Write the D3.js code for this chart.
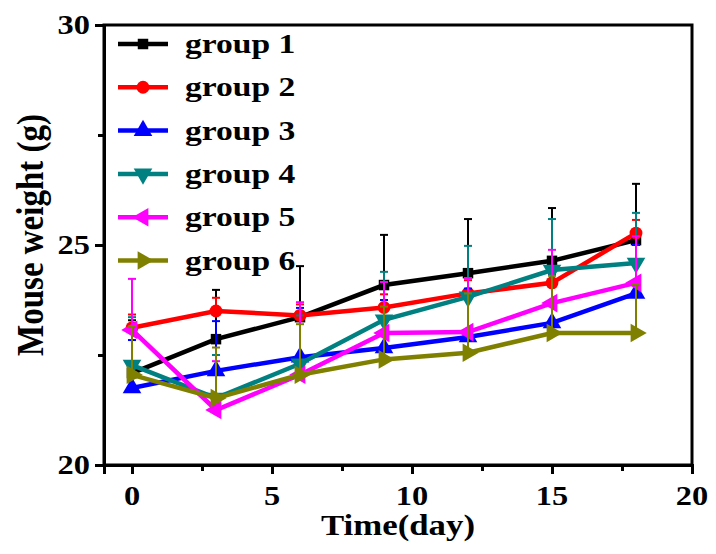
<!DOCTYPE html>
<html>
<head>
<meta charset="utf-8">
<script src="https://cdn.jsdelivr.net/npm/d3@7/dist/d3.min.js"></script>
<style>
  body { margin: 0; background: #fff; }
  text { font-family: "Liberation Serif", "Times New Roman", serif; font-weight: bold; fill: #000; }
</style>
</head>
<body>
<div id="chart"></div>
<script>
// data
const days = [0, 3, 6, 9, 12, 15, 18];
const groupNames = ["group 1", "group 2", "group 3", "group 4", "group 5", "group 6"];
const g1 = [22.09, 22.86, 23.36, 24.09, 24.36, 24.64, 25.11];
const g2 = [23.12, 23.5, 23.4, 23.58, 23.9, 24.14, 25.27];
const g3 = [21.75, 22.14, 22.45, 22.66, 22.91, 23.23, 23.9];
const g4 = [22.27, 21.52, 22.3, 23.3, 23.82, 24.43, 24.59];
const g5 = [23.07, 21.25, 22.05, 23.0, 23.02, 23.68, 24.14];
const g6 = [22.05, 21.52, 22.05, 22.4, 22.55, 23.0, 23.0];
// upper error bars
const e1 = [1.2, 1.12, 1.16, 1.14, 1.23, 1.2, 1.28];
const e2 = [0.3, 0.3, 0.25, 0.3, 0.3, 0.3, 0.3];
const e3 = [1.09, 1.13, 1.12, 1.09, 1.1, 1.1, 1.1];
const e4 = [1.09, 0.98, 1.1, 1.09, 1.16, 1.16, 1.14];
const e5 = [1.16, 1.11, 1.65, 1.16, 1.23, 1.21, 1.06];
const e6 = [1.1, 1.15, 1.15, 1.2, 1.35, 1.3, 1.1];
const xTicks = [0, 5, 10, 15, 20];
const yTicks = [20, 25, 30];

const values = [g1, g2, g3, g4, g5, g6];
const errors = [e1, e2, e3, e4, e5, e6];
const colors = ["#000000", "#ff0000", "#0000ff", "#008080", "#ff00ff", "#808000"];
const symbols = [
    { type: d3.symbolSquare, size: 110, rot: 0 },
    { type: d3.symbolCircle, size: 130, rot: 0 },
    { type: d3.symbolTriangle, size: 150, rot: 0 },
    { type: d3.symbolTriangle, size: 150, rot: 180 },
    { type: d3.symbolTriangle, size: 150, rot: -90 },
    { type: d3.symbolTriangle, size: 150, rot: 90 },
];

const width = 716, height = 554;
const plotL = 104, plotR = 692, plotT = 25, plotB = 465;
const SX = 1.2; // glyphs in the picture are a bit wide

const svg = d3.select("#chart").append("svg")
    .attr("width", width)
    .attr("height", height);

const x = d3.scaleLinear().domain([-1, 20]).range([plotL, plotR]);
const y = d3.scaleLinear().domain([20, 30]).range([plotB, plotT]);

// frame
svg.append("rect")
    .attr("x", plotL).attr("y", plotT)
    .attr("width", plotR - plotL).attr("height", plotB - plotT)
    .attr("fill", "none").attr("stroke", "#000").attr("stroke-width", 3);

// axes (ticks only, labels drawn below)
svg.append("g").attr("transform", `translate(0,${plotB})`)
    .call(d3.axisBottom(x).tickValues(xTicks).tickSize(9).tickFormat(""));
svg.append("g").attr("transform", `translate(0,${plotB})`)
    .call(d3.axisBottom(x).tickValues([2.5, 7.5, 12.5, 17.5]).tickSize(6).tickFormat(""));
svg.append("g").attr("transform", `translate(${plotL},0)`)
    .call(d3.axisLeft(y).tickValues(yTicks).tickSize(9).tickFormat(""));
svg.append("g").attr("transform", `translate(${plotL},0)`)
    .call(d3.axisLeft(y).tickValues([22.5, 27.5]).tickSize(6).tickFormat(""));
svg.selectAll(".domain").attr("stroke-width", 3);
svg.selectAll(".tick line").attr("stroke-width", 3);

svg.selectAll("text.xtick").data(xTicks).enter().append("text")
    .attr("class", "xtick")
    .attr("transform", (d) => `translate(${x(d)},${plotB + 40}) scale(${SX},1)`)
    .attr("text-anchor", "middle")
    .attr("font-size", 27)
    .text((d) => d);

svg.selectAll("text.ytick").data(yTicks).enter().append("text")
    .attr("class", "ytick")
    .attr("transform", (d) => `translate(${plotL - 14},${y(d) + 9}) scale(${SX},1)`)
    .attr("text-anchor", "end")
    .attr("font-size", 27)
    .text((d) => d);

svg.append("text")
    .attr("transform", `translate(${(plotL + plotR) / 2},${plotB + 70}) scale(${SX},1)`)
    .attr("text-anchor", "middle")
    .attr("font-size", 29)
    .text("Time(day)");

svg.append("text")
    .attr("transform", `translate(43,235) rotate(-90) scale(1,1.15)`)
    .attr("text-anchor", "middle")
    .attr("font-size", 33)
    .text("Mouse weight (g)");

// series
const line = d3.line().x((d) => x(d.t)).y((d) => y(d.v));

values.forEach((vals, i) => {
    const pts = days.map((t, j) => ({ t, v: vals[j], e: errors[i][j] }));
    const g = svg.append("g").attr("class", "series");

    g.selectAll("line.err").data(pts).enter().append("line")
        .attr("x1", (d) => x(d.t)).attr("x2", (d) => x(d.t))
        .attr("y1", (d) => y(d.v)).attr("y2", (d) => y(d.v + d.e))
        .attr("stroke", colors[i]).attr("stroke-width", 2);
    g.selectAll("line.cap").data(pts).enter().append("line")
        .attr("x1", (d) => x(d.t) - 4).attr("x2", (d) => x(d.t) + 4)
        .attr("y1", (d) => y(d.v + d.e)).attr("y2", (d) => y(d.v + d.e))
        .attr("stroke", colors[i]).attr("stroke-width", 2);

    g.append("path").datum(pts)
        .attr("d", line)
        .attr("fill", "none")
        .attr("stroke", colors[i])
        .attr("stroke-width", 4.5);

    const sym = d3.symbol().type(symbols[i].type).size(symbols[i].size);
    g.selectAll("path.mark").data(pts).enter().append("path")
        .attr("transform", (d) => `translate(${x(d.t)},${y(d.v)}) rotate(${symbols[i].rot})`)
        .attr("d", sym)
        .attr("fill", colors[i]);
});

// legend
const legend = svg.append("g");
groupNames.forEach((name, i) => {
    const ly = 44 + i * 43.3;
    legend.append("line")
        .attr("x1", 118).attr("x2", 168)
        .attr("y1", ly).attr("y2", ly)
        .attr("stroke", colors[i]).attr("stroke-width", 4.5);
    legend.append("path")
        .attr("transform", `translate(143,${ly}) rotate(${symbols[i].rot})`)
        .attr("d", d3.symbol().type(symbols[i].type).size(symbols[i].size)())
        .attr("fill", colors[i]);
    legend.append("text")
        .attr("transform", `translate(185,${ly + 9}) scale(${SX},1)`)
        .attr("font-size", 28)
        .text(name);
});
</script>
</body>
</html>
